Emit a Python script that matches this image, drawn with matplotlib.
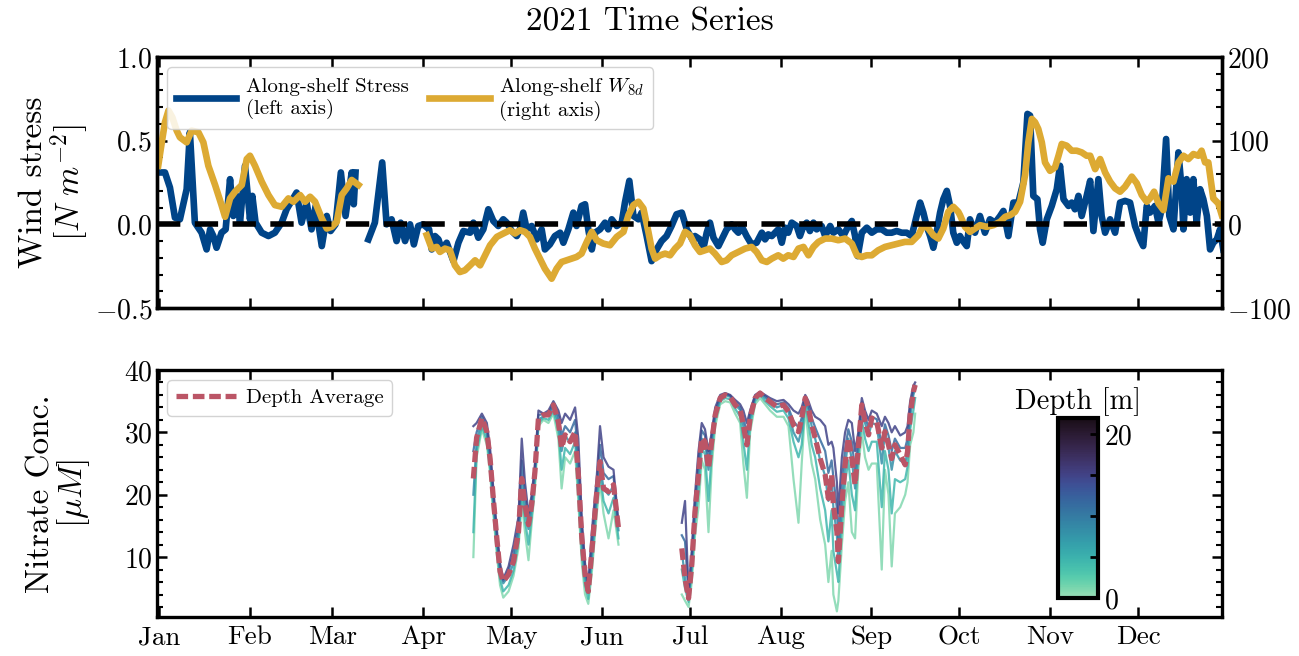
import numpy as np
import matplotlib
matplotlib.use('Agg')
import matplotlib.pyplot as plt
import seaborn as sns
from matplotlib.colors import Normalize, ListedColormap
from matplotlib.cm import ScalarMappable
from matplotlib.ticker import MultipleLocator, FixedLocator
from matplotlib.lines import Line2D

plt.rcParams.update({
    'font.family': 'serif', 'font.serif': ['cmr10'], 'mathtext.fontset': 'cm',
    'axes.unicode_minus': False, 'axes.formatter.use_mathtext': True,
})

nan = np.nan
# ---------------- data (day of year 2021, 0 = Jan 1) ----------------
month_days = [0, 31, 59, 90, 120, 151, 181, 212, 243, 273, 304, 334]
month_labels = ['Jan', 'Feb', 'Mar', 'Apr', 'May', 'Jun', 'Jul', 'Aug', 'Sep', 'Oct', 'Nov', 'Dec']

stress_day = [-0.8, 2.0, 3.7, 5.4, 7.1, 9.4, 10.5, 12.2, 14.5, 16.2, 17.4, 18.5, 19.6, 21.3, 22.7,
              24.2, 25.3, 26.5, 27.6, 29.3, 31.0, 31.8, 32.9, 35.0, 37.3, 39.5, 41.8, 43.5, 46.9,
              48.6, 50.3, 52.0, 53.4, 55.5, 57.2, 58.5, 60.2, 62.0, 63.6, 65.7, 66.4, 67.0, 69.0,
              71.4, 73.6, 76.1, 77.6, 79.3, 81.0, 82.4, 83.9, 85.6, 86.9, 88.4, 90.1, 92.1,
              93.0, 94.1, 95.3, 96.4, 98.1, 100.4, 102.1, 103.8, 106.1, 107.2, 108.9, 110.6, 112.3,
              114.0, 115.7, 117.4, 118.6, 120.3, 122.0, 123.1, 124.2, 125.4, 127.1, 128.8, 130.5,
              131.6, 133.3, 135.0, 136.8, 137.9, 139.6, 141.3, 142.4, 144.1, 145.3, 146.4, 147.6,
              148.7, 150.4, 152.1, 153.2, 154.4, 156.1, 157.8, 158.9, 160.4, 161.8, 163.5, 164.6,
              166.3, 168.0, 169.7, 171.4, 173.1, 174.8, 176.5, 178.3, 180.0, 182.2,
              182.8, 184.5, 185.7, 186.8, 187.9, 189.1, 190.8, 192.5, 193.6, 195.3, 196.5, 197.6,
              198.7, 200.4, 202.1, 203.8, 205.6, 206.7, 207.8, 209.0, 210.1, 211.2, 212.4, 213.5,
              214.6, 215.8, 217.5, 218.6, 219.8, 220.9, 222.0, 223.2, 224.3, 226.0, 227.2, 228.9,
              230.0, 231.7, 233.4, 235.1, 236.3, 237.4, 238.3, 239.7, 241.4, 243.1, 244.8, 246.5,
              248.2, 249.9, 251.6, 253.3, 255.0, 256.7, 258.4, 259.6, 260.7, 261.8, 263.0, 264.1,
              265.2, 266.4, 267.5, 268.7, 269.8, 270.9, 272.1, 273.2,
              273.8, 275.5, 276.6, 278.3, 280.0, 281.7, 283.4, 285.2, 286.9, 288.0, 289.7, 291.4,
              293.1, 294.8, 296.2, 297.1, 298.2, 299.6, 300.5, 301.4, 302.8, 304.5, 306.2, 307.3,
              308.5, 310.2, 311.3, 312.4, 313.6, 314.7, 316.4, 317.6, 318.7, 320.4, 321.5, 322.7,
              324.4, 326.1, 327.8, 329.5, 331.2, 332.9, 334.6, 335.7, 336.9, 338.0, 339.7, 340.9,
              342.0, 343.5, 344.6, 346.0, 347.7, 348.8, 349.4, 350.5, 351.7, 352.8, 353.9, 355.1,
              356.2, 357.4, 358.5, 359.6, 360.8, 361.9, 363.0]
stress_val = [0.31, 0.31, 0.22, 0.04, 0.03, 0.21, 0.55, 0.01, -0.05, -0.15, -0.03, -0.07, -0.14, -0.05, -0.03,
              0.27, 0.05, 0.17, 0.01, 0.35, 0.03, 0.17, 0.01, -0.05, -0.07, -0.05, 0.01, 0.09, 0.19,
              0.01, 0.13, -0.03, 0.11, -0.13, 0.05, -0.04, 0.0, 0.31, 0.05, 0.31, 0.12, 0.31, nan,
              -0.09, 0.01, 0.37, 0.0, 0.03, -0.10, 0.01, -0.10, 0.0, -0.12, -0.01, 0.0, -0.03,
              -0.15, -0.07, -0.09, -0.15, -0.11, -0.22, -0.11, -0.04, -0.05, 0.01, -0.08, -0.03, 0.09,
              0.02, -0.01, 0.03, 0.01, -0.04, -0.07, -0.03, 0.07, -0.03, -0.01, -0.09, -0.03,
              -0.15, -0.12, -0.07, -0.05, -0.11, -0.03, 0.07, -0.01, 0.11, 0.12, -0.03, -0.15,
              -0.05, -0.03, 0.01, -0.03, 0.03, -0.01, 0.01, 0.13, 0.26, 0.05, 0.03, 0.07,
              -0.07, -0.22, -0.15, -0.10, -0.07, -0.01, 0.06, 0.07, -0.03, -0.10,
              -0.07, -0.09, -0.14, -0.05, 0.01, -0.08, -0.13, -0.07, -0.03, 0.0, -0.03, -0.05,
              -0.01, -0.07, -0.12, -0.11, -0.05, -0.09, -0.06, -0.07, -0.05, -0.03, -0.11, -0.02,
              -0.05, 0.01, -0.01, -0.07, -0.01, 0.01, -0.04, 0.01, -0.03, -0.01, -0.07, -0.01,
              -0.05, -0.03, -0.07, -0.01, 0.02, -0.07, -0.19, -0.05, -0.02, -0.05, -0.03, -0.03,
              -0.05, -0.05, -0.04, -0.05, -0.05, -0.07, 0.05, 0.13, 0.07, -0.01, -0.07, -0.14,
              -0.05, 0.07, 0.15, 0.20, 0.11, -0.05, -0.11, -0.07,
              -0.09, -0.13, 0.03, -0.05, 0.05, -0.05, 0.03, 0.01, 0.05, 0.08, -0.07, 0.13,
              0.13, 0.25, 0.66, 0.65, 0.17, 0.15, -0.03, -0.11, 0.03, 0.11, 0.21, 0.35,
              0.15, 0.11, 0.13, 0.09, 0.17, 0.05, 0.17, 0.26, -0.04, 0.27, 0.05, -0.05,
              0.03, -0.05, 0.13, 0.14, 0.13, -0.01, -0.09, -0.13, 0.11, 0.07, 0.11, 0.01,
              0.09, 0.51, 0.05, -0.03, 0.43, 0.21, -0.03, 0.27, 0.07, 0.27, 0.01, 0.21,
              0.15, 0.05, -0.15, -0.11, -0.09, -0.03, -0.15]

w8d_day = [-0.3, 1.0, 2.0, 3.2, 4.5, 6.0, 7.1, 9.4, 11.1, 13.4, 15.1, 16.8, 19.1, 21.3, 22.5, 24.2, 25.9, 28.2,
           29.9, 31.0, 32.7, 35.0, 37.3, 39.5, 41.8, 44.1, 45.8, 48.1, 49.8, 51.5, 53.2, 55.5, 57.2,
           58.9, 60.6, 62.3, 64.0, 65.7, 68.0, 80.0,
           91.3, 93.0, 94.7, 95.8, 97.5, 99.2, 100.9, 102.6, 104.3, 106.1, 107.8, 109.5, 111.2, 112.9,
           115.2, 117.4, 119.7, 121.4, 123.1, 124.8, 126.5, 128.2, 129.9, 131.6, 133.9, 135.6, 137.3,
           139.0, 140.7, 142.4, 144.1, 145.9, 147.6, 149.3, 151.5, 153.8, 156.1, 158.4, 160.1, 161.8,
           163.5, 165.2, 166.9, 168.0, 169.2, 170.9, 172.6, 174.3, 176.0, 177.7, 179.4, 181.1,
           182.8, 184.5, 186.2, 187.9, 189.6, 191.9, 193.6, 195.3, 197.6, 199.9, 202.1, 203.8,
           205.6, 207.3, 209.0, 211.2, 212.9, 214.6, 216.4, 218.1, 219.8, 221.5, 223.2, 224.9,
           227.2, 229.4, 231.7, 234.0, 236.3, 238.0, 239.7, 241.4, 243.1, 245.3, 247.6, 249.9,
           252.2, 254.4, 256.7, 259.0, 260.7, 262.4, 264.1, 265.8, 267.5, 269.2, 270.9, 272.6,
           273.2, 274.9, 276.6, 278.3, 280.0, 282.3, 284.6, 286.9, 288.6, 290.3, 292.0, 293.7,
           295.4, 296.5, 297.7, 298.8, 299.9, 301.1, 302.2, 303.9, 305.6, 306.8, 307.9, 309.6,
           311.3, 313.0, 314.7, 316.4, 317.6, 319.3, 321.0, 322.7, 324.4, 326.1, 327.8, 329.5,
           331.8, 333.5, 335.2, 336.9, 338.0, 339.4, 340.9, 342.6, 344.3, 346.0, 347.7, 349.4,
           351.1, 352.8, 354.5, 355.6, 356.8, 357.9, 359.6, 361.3, 362.5]
w8d_val = [70, 100, 122, 136, 128, 112, 104, 98, 112, 110, 98, 70, 47, 23, 9, 31, 39, 47,
           78, 82, 70, 51, 35, 23, 21, 31, 27, 35, 27, 33, 27, 7, -5,
           -3, 3, 35, 43, 53, 47, nan,
           -13, -29, -27, -33, -29, -31, -49, -57, -55, -49, -43, -49, -37, -25,
           -15, -11, -7, -11, -7, -9, -15, -29, -41, -53, -65, -53, -45,
           -43, -41, -39, -35, -21, -9, -19, -23, -25, -15, -9, 11, 23,
           27, 19, -9, -29, -41, -37, -35, -37, -29, -23, -9, -13,
           -25, -33, -31, -29, -35, -45, -43, -37, -33, -29, -27, -33,
           -43, -45, -41, -37, -41, -37, -39, -29, -27, -37, -27, -21,
           -17, -17, -19, -17, -23, -37, -39, -37, -37, -31, -27, -25,
           -23, -21, -21, -13, -1, -5, -13, -17, -5, 15, 21, 15,
           11, -3, -9, -5, -1, -3, -1, 3, 9, 11, 15, 27,
           59, 98, 126, 122, 114, 98, 74, 64, 68, 82, 96, 94,
           88, 88, 86, 82, 82, 66, 78, 62, 51, 43, 39, 45,
           57, 49, 35, 27, 31, 39, 25, 17, 55, 51, 74, 82,
           78, 84, 82, 88, 74, 74, 31, 25, 11]

# nitrate: two deployment segments, depth-resolved (m) + depth average
nitrate_depths = [1, 4.5, 8, 11.5, 15]
seg1_day = [107.2, 108.3, 110.1, 111.8, 112.9, 114.0, 115.2, 116.3, 117.4, 119.2, 120.9, 122.6, 123.7,
            124.8, 126.0, 127.1, 128.2, 129.4, 131.1, 132.8, 134.5, 136.2, 137.3, 138.5, 140.2, 141.9,
            143.0, 144.2, 145.3, 146.4, 147.6, 149.3, 150.4, 151.6, 153.3, 155.0, 156.7]
seg1_avg = [22.6, 29.1, 32.3, 30.1, 25.8, 19.4, 13.0, 7.7, 6.1, 7.2, 9.3, 14.1, 22.6, 18.4, 15.2, 18.4,
            23.7, 32.3, 32.8, 32.8, 34.4, 31.7, 27.5, 29.6, 28.5, 30.1, 23.2, 13.0, 7.2, 4.5, 10.9,
            20.5, 25.3, 21.0, 20.5, 21.6, 14.6]
seg1_d1 = [10.0, 26.0, 30.5, 28.0, 23.5, 17.0, 10.5, 5.5, 3.5, 4.5, 7.0, 11.5, 19.0, 14.0, 9.5, 15.5,
           21.0, 31.0, 32.0, 31.5, 33.0, 29.0, 21.0, 26.0, 25.0, 27.0, 19.0, 9.0, 4.0, 2.5, 7.5,
           17.0, 22.0, 17.0, 13.0, 17.5, 12.0]
seg1_d2 = [14.0, 27.0, 31.0, 28.8, 24.3, 18.0, 11.5, 6.5, 4.5, 5.5, 7.8, 12.5, 20.5, 16.0, 12.0, 16.5,
           22.0, 31.5, 32.3, 32.0, 33.5, 30.3, 24.0, 27.5, 26.5, 28.5, 21.0, 10.5, 5.5, 3.3, 9.0,
           18.5, 23.5, 19.0, 17.0, 19.5, 13.0]
seg1_d3 = [20.0, 28.5, 32.0, 29.8, 25.5, 19.2, 12.8, 7.5, 5.8, 7.0, 9.0, 14.0, 22.5, 18.0, 14.5, 18.0,
           23.5, 32.0, 32.6, 32.7, 34.2, 31.5, 27.0, 29.5, 28.3, 30.0, 23.0, 12.5, 7.0, 4.3, 10.5,
           20.0, 25.0, 21.0, 20.0, 21.5, 14.3]
seg1_d4 = [27.0, 30.0, 32.5, 30.6, 26.5, 20.0, 13.5, 8.3, 6.2, 7.8, 10.5, 15.2, 25.5, 20.0, 16.0, 19.0,
           24.2, 32.8, 32.9, 33.0, 34.6, 32.5, 29.5, 31.0, 30.0, 32.0, 26.0, 14.5, 8.0, 4.9, 12.0,
           21.5, 28.0, 23.5, 22.5, 23.0, 15.0]
seg1_d5 = [31.0, 31.5, 33.0, 31.5, 27.5, 21.0, 14.5, 9.0, 6.5, 8.5, 12.0, 16.5, 29.0, 22.0, 17.0, 20.0,
           25.0, 33.5, 33.0, 33.5, 35.0, 33.5, 31.5, 33.0, 32.0, 34.0, 29.0, 16.0, 9.0, 5.5, 14.0,
           23.0, 31.0, 26.0, 24.5, 24.0, 15.5]

seg2_day = [178.3, 179.4, 180.6, 181.7, 182.8, 184.0, 185.1, 186.2, 187.4, 188.5, 189.7, 191.4, 193.1,
            194.8, 196.5, 198.2, 199.3, 200.5, 201.6, 203.3, 205.0, 206.7, 208.4, 210.7, 213.0, 214.7,
            216.4, 218.1, 219.2, 220.4, 221.5, 222.6, 223.8, 225.5, 227.2, 228.3, 229.4, 230.0, 231.2,
            231.7, 232.9, 234.0, 235.1, 236.3, 237.4, 238.5, 239.7, 240.8, 242.0, 243.1, 244.8, 246.5,
            247.6, 248.8, 249.9, 251.0, 252.8, 254.5, 255.3, 256.2, 257.3, 257.9]
seg2_avg = [11.4, 6.6, 3.4, 8.8, 17.3, 23.2, 29.1, 28.5, 24.2, 28.5, 32.8, 35.5, 36.0, 35.7, 34.4, 33.6,
            31.2, 28.0, 32.3, 35.5, 36.3, 35.5, 34.9, 34.1, 34.4, 33.3, 31.2, 30.1, 32.3, 35.5, 33.9,
            31.2, 29.1, 25.8, 23.2, 19.4, 23.2, 18.4, 14.1, 9.3, 18.4, 24.8, 29.1, 25.8, 21.6, 27.5,
            34.4, 31.7, 29.6, 32.3, 31.7, 27.5, 30.1, 28.0, 25.8, 28.0, 26.4, 24.8, 26.9, 32.8, 36.5, 37.6]
seg2_d1 = [4.0, 3.0, 2.0, 6.0, 13.5, 18.0, 25.5, 24.0, 14.0, 24.5, 31.0, 34.5, 35.0, 34.8, 33.0, 31.5,
           25.0, 19.5, 30.0, 34.5, 35.5, 34.5, 33.5, 32.5, 32.5, 31.0, 22.5, 15.5, 25.0, 34.0, 29.0,
           25.0, 22.5, 16.0, 12.0, 6.0, 11.0, 4.0, 1.3, 3.0, 12.0, 19.0, 22.0, 14.0, 13.0, 24.0,
           30.0, 26.0, 24.0, 25.0, 25.0, 8.0, 24.0, 20.0, 8.5, 17.0, 18.0, 20.0, 22.0, 28.0, 30.0, 33.0]
seg2_d2 = [8.0, 5.0, 2.8, 7.5, 15.5, 20.5, 27.5, 26.5, 19.0, 26.5, 32.0, 35.0, 35.5, 35.3, 33.8, 32.5,
           28.5, 24.0, 31.2, 35.0, 36.0, 35.0, 34.2, 33.3, 33.5, 32.2, 28.5, 26.0, 28.0, 34.8, 31.5,
           28.0, 26.0, 21.0, 17.5, 12.5, 17.5, 11.0, 7.5, 6.0, 15.0, 22.0, 25.5, 20.0, 17.5, 26.0,
           32.0, 29.0, 27.0, 28.5, 28.5, 18.0, 27.0, 24.0, 17.0, 22.5, 22.0, 22.5, 24.5, 30.5, 33.5, 35.5]
seg2_d3 = [11.0, 6.5, 3.3, 8.8, 17.5, 23.5, 29.0, 28.5, 24.0, 28.5, 32.8, 35.4, 36.0, 35.7, 34.4, 33.6,
           31.0, 28.5, 32.3, 35.5, 36.3, 35.5, 34.9, 34.0, 34.4, 33.3, 30.0, 28.5, 30.5, 35.3, 33.6,
           31.0, 29.0, 25.5, 23.0, 19.0, 22.5, 18.0, 13.5, 9.0, 18.5, 24.5, 29.0, 25.5, 21.0, 27.5,
           34.0, 31.5, 29.5, 31.5, 31.2, 25.0, 30.0, 27.5, 24.0, 27.0, 25.5, 25.0, 27.0, 32.5, 36.0, 37.0]
seg2_d4 = [13.5, 12.5, 4.0, 10.0, 18.8, 25.3, 30.3, 29.5, 25.5, 29.3, 33.4, 35.7, 36.2, 35.9, 34.8, 34.0,
           32.3, 30.0, 33.0, 35.8, 36.4, 35.8, 35.2, 34.5, 34.8, 33.9, 31.8, 30.8, 32.3, 35.7, 34.3,
           32.3, 30.8, 28.8, 27.0, 23.5, 25.5, 22.8, 17.8, 13.0, 22.3, 27.3, 30.5, 28.5, 24.0, 28.8,
           34.8, 32.5, 30.8, 32.5, 32.1, 28.0, 31.3, 29.5, 27.0, 29.0, 27.5, 27.5, 29.0, 33.8, 36.8, 37.5]
seg2_d5 = [15.5, 19.0, 4.5, 11.0, 20.0, 27.0, 31.5, 30.5, 27.0, 30.0, 34.0, 36.0, 36.3, 36.0, 35.2, 34.5,
           33.5, 31.5, 33.5, 36.0, 36.5, 36.0, 35.5, 35.0, 35.2, 34.5, 33.5, 33.0, 34.0, 36.0, 35.0,
           33.5, 32.5, 32.0, 31.0, 28.0, 28.5, 27.5, 22.0, 17.0, 26.0, 30.0, 32.0, 31.5, 27.0, 30.0,
           35.5, 33.5, 32.0, 33.5, 33.0, 31.0, 32.5, 31.5, 30.0, 31.0, 29.5, 30.0, 31.0, 35.0, 37.5, 38.0]

# ---------------- styling ----------------
BLUE, GOLD, RED = '#004488', '#DDAA33', '#BB5566'
mako_r = sns.color_palette('mako_r', as_cmap=True)
depth_cmap = ListedColormap(mako_r(np.linspace(0.12, 0.95, 256)))
depth_norm = Normalize(0, 22)

fig = plt.figure(figsize=(12.99, 6.56), dpi=100)
ax1 = fig.add_axes([0.1209, 0.5305, 0.8199, 0.3826])
ax3 = fig.add_axes([0.1209, 0.0595, 0.8199, 0.3765])

xlim = (-0.7, 362.6)
SPW = 2.4
TICK_FS = 20
LEG_KW = dict(fontsize=15, handlelength=2.9, handletextpad=0.45, borderaxespad=0.5, framealpha=0.85)

def style_ax(ax):
    for s in ax.spines.values():
        s.set_linewidth(SPW)
    ax.tick_params(which='major', direction='in', length=7, width=1.8, labelsize=TICK_FS)
    ax.tick_params(which='minor', direction='in', length=4, width=1.5)

# ---- top panel ----
ax1.plot(stress_day, stress_val, color=BLUE, lw=4.8, solid_joinstyle='round')
ax1.set_ylim(-0.5, 1.0)
ax1.set_xlim(*xlim)
ax1.yaxis.set_major_locator(FixedLocator([-0.5, 0.0, 0.5, 1.0]))
ax1.yaxis.set_minor_locator(MultipleLocator(0.1))
ax1.set_ylabel('Wind stress\n[$N\\ m^{-2}$]', fontsize=24, linespacing=1.0)
ax1.yaxis.set_label_coords(-0.061, 0.5)

ax2 = ax1.twinx()
ax2.plot(w8d_day, w8d_val, color=GOLD, lw=4.8, solid_joinstyle='round')
ax2.axhline(0, color='black', lw=4, dashes=(4.2, 2.6))
ax2.set_ylim(-100, 200)
ax2.yaxis.set_major_locator(FixedLocator([-100, 0, 100, 200]))
ax2.yaxis.set_minor_locator(MultipleLocator(20))
ax2.set_xlim(*xlim)

for ax in (ax1, ax2):
    style_ax(ax)
ax1.set_xticks(month_days)
ax1.tick_params(axis='x', top=True, bottom=True, labelbottom=False)
ax1.xaxis.set_minor_locator(FixedLocator([]))

leg_handles = [Line2D([], [], color=BLUE, lw=4.8), Line2D([], [], color=GOLD, lw=4.8)]
leg = ax2.legend(leg_handles, ['Along-shelf Stress\n(left axis)', 'Along-shelf $W_{8d}$\n(right axis)'],
                 loc='upper left', ncol=2, columnspacing=1.0, **LEG_KW)

# ---- bottom panel ----
segments = [
    (seg1_day, [seg1_d1, seg1_d2, seg1_d3, seg1_d4, seg1_d5], seg1_avg),
    (seg2_day, [seg2_d1, seg2_d2, seg2_d3, seg2_d4, seg2_d5], seg2_avg),
]
for days, profiles, avg in segments:
    for depth, prof in zip(nitrate_depths, profiles):
        ax3.plot(days, prof, color=depth_cmap(depth_norm(depth)), lw=1.6, alpha=0.85)
for days, profiles, avg in segments:
    ax3.plot(days, avg, color=RED, lw=3.8, dashes=(2.2, 0.9))

ax3.set_ylim(0.4, 40)
ax3.set_xlim(*xlim)
ax3.yaxis.set_major_locator(FixedLocator([10, 20, 30, 40]))
ax3.yaxis.set_minor_locator(MultipleLocator(2))
style_ax(ax3)
ax3.tick_params(axis='y', which='both', left=True, right=True)
ax3.set_xticks(month_days)
ax3.set_xticklabels(month_labels)
ax3.tick_params(axis='x', top=True, bottom=True, labelsize=19.5, pad=6)
ax3.xaxis.set_minor_locator(FixedLocator([]))
ax3.set_ylabel('Nitrate Conc.\n[$\\mu M$]', fontsize=24, linespacing=1.0)
ax3.yaxis.set_label_coords(-0.061, 0.5)

ax3.legend([Line2D([], [], color=RED, lw=3.8, dashes=(2.2, 0.9))], ['Depth Average'],
           loc='upper left', **LEG_KW)

# colorbar
cax = fig.add_axes([0.8145, 0.0885, 0.0308, 0.2745])
cb = fig.colorbar(ScalarMappable(norm=depth_norm, cmap=depth_cmap), cax=cax)
cb.set_ticks([0, 5, 10, 15, 20])
cb.set_ticklabels(['0', '', '', '', '20'])
cb.outline.set_linewidth(3)
cax.tick_params(direction='in', length=6, width=2, labelsize=TICK_FS, pad=5)
cax.set_title('Depth [m]', fontsize=20.5, pad=6)

fig.suptitle('2021 Time Series', fontsize=24, y=0.988)

fig.savefig('out.png', dpi=100)
